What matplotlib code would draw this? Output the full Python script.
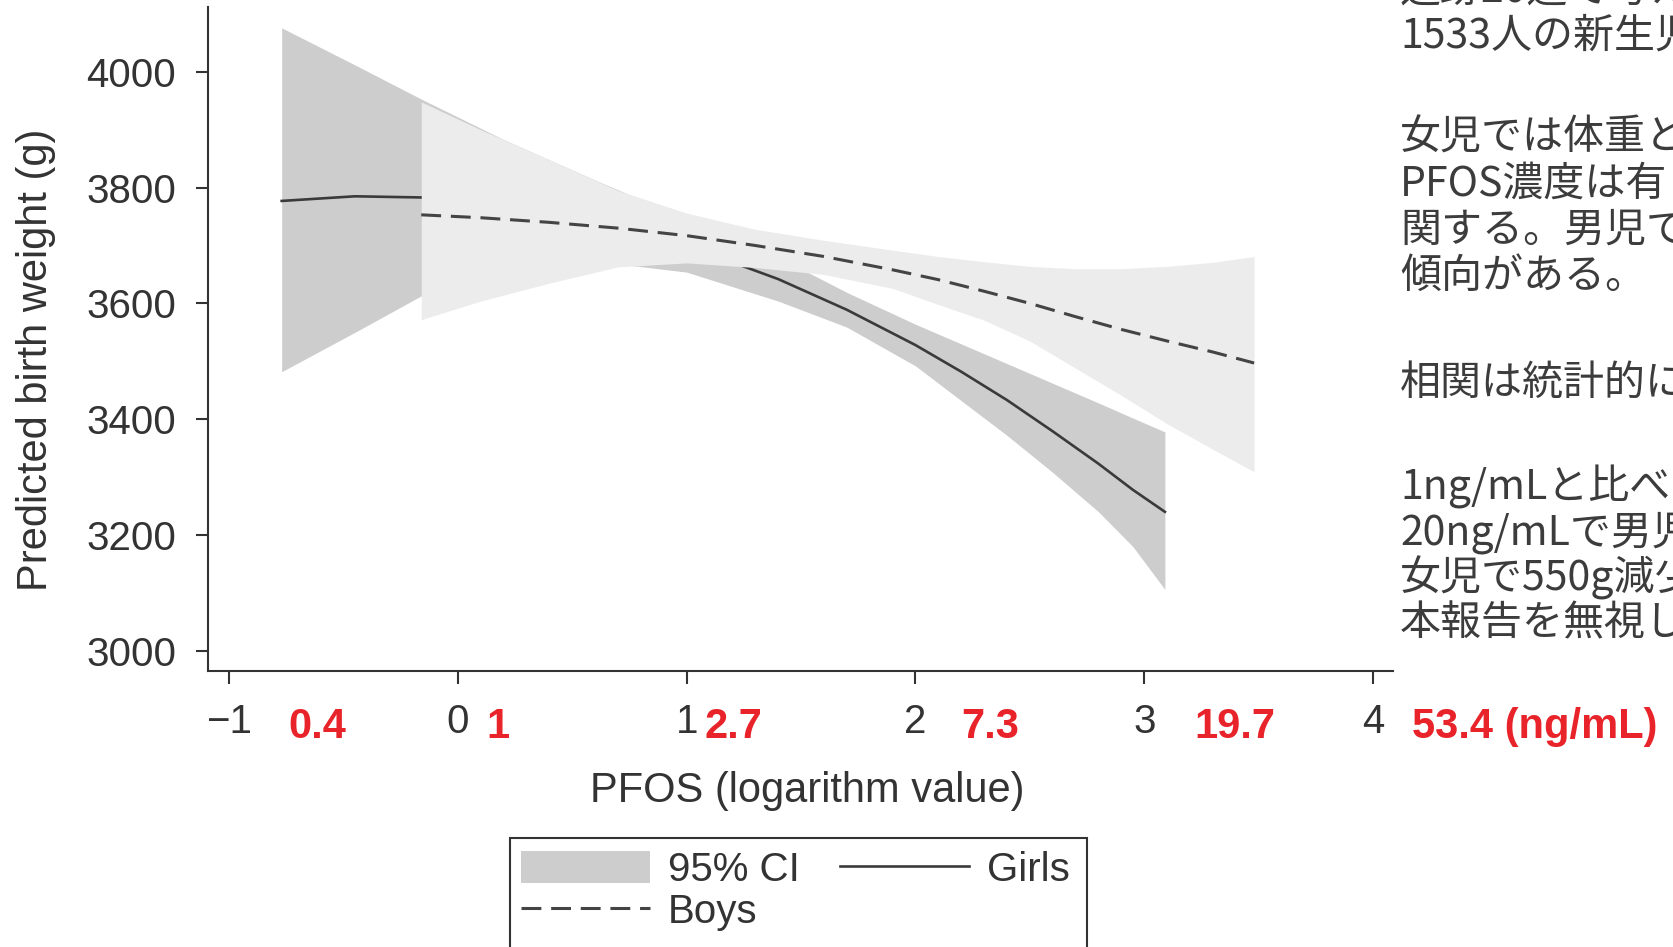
import matplotlib
matplotlib.use("Agg")
import matplotlib.pyplot as plt
import matplotlib.transforms as mtransforms
from matplotlib.patches import Patch, Rectangle
from matplotlib.lines import Line2D

plt.rcParams['font.family'] = ['Liberation Sans', 'DejaVu Sans']

# Girls: fitted curve and 95% CI
girls_x = [-0.77, -0.45, -0.16, 0.2, 0.6, 1.0, 1.4, 1.7, 2.0, 2.2, 2.4, 2.6, 2.8, 2.95, 3.09]
girls_fit = [3777, 3785, 3783, 3771, 3743, 3700, 3642, 3589, 3528, 3482, 3433, 3379, 3323, 3278, 3240]
girls_hi = [4076, 4012, 3953, 3883, 3813, 3746, 3680, 3619, 3564, 3530, 3496, 3462, 3428, 3402, 3378]
girls_lo = [3482, 3550, 3613, 3659, 3673, 3654, 3604, 3559, 3492, 3432, 3372, 3308, 3240, 3180, 3106]

# Boys: fitted curve and 95% CI
boys_x = [-0.16, 0.1, 0.4, 0.7, 1.0, 1.3, 1.6, 1.9, 2.1, 2.3, 2.5, 2.7, 2.9, 3.1, 3.3, 3.48]
boys_fit = [3753, 3748, 3740, 3730, 3717, 3700, 3681, 3658, 3641, 3621, 3600, 3577, 3555, 3535, 3516, 3497]
boys_hi = [3948, 3900, 3848, 3795, 3756, 3728, 3709, 3692, 3681, 3672, 3664, 3660, 3660, 3664, 3671, 3681]
boys_lo = [3572, 3604, 3635, 3663, 3670, 3662, 3650, 3626, 3598, 3571, 3535, 3488, 3441, 3392, 3348, 3309]

x_ticks = [-1, 0, 1, 2, 3, 4]
y_ticks = [3000, 3200, 3400, 3600, 3800, 4000]
conc_labels = ['0.4', '1', '2.7', '7.3', '19.7', '53.4 (ng/mL)']
conc_pos = [-0.742, 0.123, 1.08, 2.20, 3.22, 4.17]

note_lines = ['追跡20週で考え', '1533人の新生児', '', '女児では体重と', 'PFOS濃度は有',
              '関する。男児で', '傾向がある。', '', '相関は統計的に', '',
              '1ng/mLと比べて', '20ng/mLで男児', '女児で550g減少', '本報告を無視し']
note_y = [-10, 36, None, 138, 184, 230, 276, None, 383, None, 487, 533, 578, 624]

W, H = 1674, 947
fig = plt.figure(figsize=(W / 100, H / 100), dpi=100)
ax = fig.add_axes([208 / W, 1 - 671 / H, (1393 - 208) / W, 664 / H])

girls_band = '#cdcdcd'
boys_band = '#ececec'
ink = '#333333'

ax.fill_between(girls_x, girls_lo, girls_hi, color=girls_band, lw=0, zorder=1)
ax.plot(girls_x, girls_fit, color='#3a3a3a', lw=1.9, zorder=2)
ax.fill_between(boys_x, boys_lo, boys_hi, color=boys_band, lw=0, zorder=3)
ax.plot(boys_x, boys_fit, color='#444444', lw=2.2, dashes=(6.5, 3.2), zorder=4)

ax.set_xlim(-1.092, 4.087)
ax.set_ylim(2965, 4112)
ax.set_xticks(x_ticks)
ax.set_xticklabels(['\u22121', '0', '1', '2', '3', '4'])
ax.set_yticks(y_ticks)
for s in ['top', 'right']:
    ax.spines[s].set_visible(False)
for s in ['left', 'bottom']:
    ax.spines[s].set_color(ink)
    ax.spines[s].set_linewidth(1.5)
ax.tick_params(direction='out', length=9, width=1.5, colors=ink, labelsize=29, pad=14)

ax.set_ylabel('Predicted birth weight (g)', fontsize=30, color=ink)
ax.yaxis.set_label_coords(-0.128, 0.468)
ax.set_xlabel('PFOS (logarithm value)', fontsize=30, color=ink)
ax.xaxis.set_label_coords(0.506, -0.15)

# red concentration labels next to the log ticks
trans = mtransforms.blended_transform_factory(ax.transData, ax.transAxes)
for lab, xp in zip(conc_labels, conc_pos):
    ax.text(xp, -0.085, lab, transform=trans, color='#e8232a', fontsize=30,
            fontweight='bold', ha='left', va='center', clip_on=False)

# legend
handles = [Patch(facecolor=girls_band, edgecolor='none'),
           Line2D([], [], color='#444444', lw=2.2, dashes=(6.5, 3.2)),
           Line2D([], [], color='#3a3a3a', lw=1.9)]
fig.legend(handles, ['95% CI', 'Boys', 'Girls'], ncol=2, frameon=False,
           loc='upper left', bbox_to_anchor=(521 / W, 1 - 851 / H),
           fontsize=29, handlelength=3.2, handleheight=0.85, handletextpad=0.45,
           columnspacing=1.0, labelspacing=0.1, borderpad=0, borderaxespad=0,
           labelcolor=ink)
fig.patches.append(Rectangle((510 / W, -0.05), (1087 - 510) / W, 0.05 + 1 - 838 / H,
                             transform=fig.transFigure, fill=False,
                             edgecolor=ink, lw=1.5))

# Japanese note on the right (cut off by the right edge, as in the source)
for line, yy in zip(note_lines, note_y):
    if yy is None:
        continue
    fig.text(1400 / W, 1 - yy / H, line, fontsize=29.5, color='#3c3c3c',
             family=['Noto Sans CJK JP', 'DejaVu Sans'], ha='left', va='center')

fig.savefig('out.png', dpi=100)
